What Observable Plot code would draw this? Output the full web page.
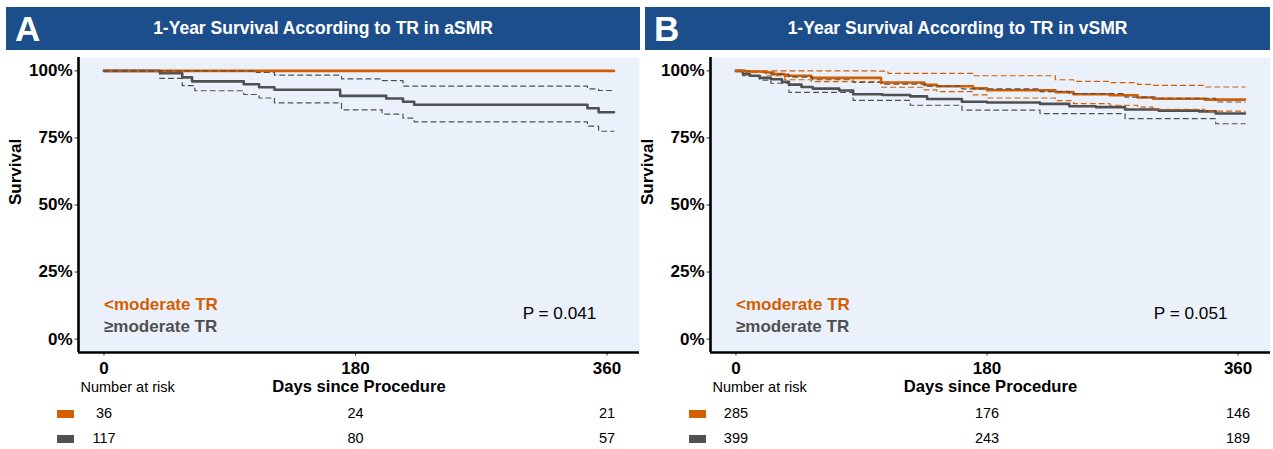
<!DOCTYPE html>
<html>
<head>
<meta charset="utf-8">
<script src="https://cdn.jsdelivr.net/npm/d3@7"></script>
<script src="https://cdn.jsdelivr.net/npm/@observablehq/plot@0.6"></script>
<style>
  html, body { margin: 0; padding: 0; background: #ffffff; }
  body { width: 1273px; height: 449px; position: relative; overflow: hidden; font-family: "Liberation Sans", Arial, sans-serif; }
  .hdr { position: absolute; top: 7px; height: 43px; background: #1d4e8c; color: #fff; }
  .hdr .letter { position: absolute; left: 9px; top: 0; height: 43px; line-height: 43px; font-size: 35px; font-weight: bold; }
  .hdr .title { position: absolute; left: 0; right: 0; top: 0; height: 43px; line-height: 43px; text-align: center; font-size: 17.5px; font-weight: bold; }
  .abs { position: absolute; }
  .sw { position: absolute; width: 17px; height: 8px; }
</style>
</head>
<body>
<div id="root"></div>
<script>
// ---------------- data ----------------
const groups = ["<moderate TR", "≥moderate TR"];
const riskDays = [0, 180, 360];
const xTicks = [0, 180, 360];
const yTicks = [0, 25, 50, 75, 100];

// Panel A (aSMR)
const aLtTime = [0, 365];
const aLtSurv = [100, 100];
const aGeTime = [0, 40, 56, 63, 100, 111, 122, 169, 202, 214, 222, 346, 354, 365];
const aGeSurv = [100, 99.15, 97.6, 96.1, 95.0, 93.9, 93.0, 90.7, 89.7, 88.5, 87.4, 86.1, 84.6, 84.6];
const aGeUpTime = [0, 109, 122, 170, 199, 214, 346, 354, 365];
const aGeUp = [100, 99.4, 98.4, 97.0, 96.4, 94.3, 93.3, 92.7, 92.7];
const aGeLoTime = [0, 40, 56, 65, 100, 111, 122, 170, 199, 214, 222, 346, 354, 365];
const aGeLo = [100, 97.2, 94.5, 92.6, 91.2, 89.9, 88.1, 85.5, 83.9, 82.4, 81.0, 79.4, 77.5, 77.5];
const aRiskLt = [36, 24, 21];
const aRiskGe = [117, 80, 57];
const aTitle = "1-Year Survival According to TR in aSMR";
const aP = "P = 0.041";

// Panel B (vSMR)
const bLtTime = [0, 7, 21, 27, 35, 54, 104, 135, 144, 170, 180, 229, 242, 268, 288, 299, 336, 365];
const bLtSurv = [100, 99.8, 99.4, 98.8, 98.2, 97.4, 95.7, 94.8, 94.3, 93.5, 92.8, 92.1, 91.3, 90.9, 90.1, 89.6, 89.3, 89.3];
const bLtUpTime = [0, 103, 109, 170, 229, 242, 268, 288, 299, 335, 365];
const bLtUp = [100, 99.9, 99.1, 98.2, 96.7, 96.1, 95.6, 95.0, 94.6, 94.0, 94.0];
const bLtLoTime = [0, 7, 21, 35, 54, 104, 135, 144, 170, 180, 229, 242, 268, 288, 299, 336, 365];
const bLtLo = [100, 99.4, 98.2, 96.7, 96.0, 93.9, 92.9, 92.3, 91.1, 89.9, 88.9, 87.8, 87.2, 86.5, 85.7, 85.0, 85.0];
const bGeTime = [0, 5, 10, 17, 25, 33, 38, 47, 55, 74, 84, 105, 125, 137, 162, 180, 218, 239, 258, 279, 303, 332, 344, 365];
const bGeSurv = [100, 98.8, 98.2, 97.4, 96.9, 95.9, 94.9, 94.0, 93.4, 92.7, 91.3, 91.0, 90.5, 89.5, 88.5, 88.2, 87.7, 86.8, 86.5, 85.6, 85.2, 84.9, 84.1, 84.1];
const bGeUpTime = [0, 10, 25, 38, 55, 84, 105, 137, 162, 218, 239, 279, 303, 344, 365];
const bGeUp = [100, 99.4, 98.8, 97.7, 96.7, 95.7, 95.1, 94.3, 93.3, 92.3, 91.5, 90.2, 89.8, 88.4, 88.4];
const bGeLoTime = [0, 5, 17, 25, 38, 84, 125, 162, 218, 279, 344, 365];
const bGeLo = [100, 98.2, 96.6, 95.4, 92.0, 89.0, 87.2, 85.4, 84.1, 82.2, 80.3, 80.3];
const bRiskLt = [285, 176, 146];
const bRiskGe = [399, 243, 189];
const bTitle = "1-Year Survival According to TR in vSMR";
const bP = "P = 0.051";

// ---------------- style ----------------
const ORANGE = "#d55e00";
const GRAY = "#505050";
const BG = "#eaf1fb";
const FONT = "'Liberation Sans', Arial, sans-serif";
const xDomain = [-18.25, 383.25];
const yDomain = [-5, 105];

function pts(time, surv) { return time.map((t, i) => ({t, s: surv[i]})); }

function makePanel(cfg) {
  const root = document.getElementById("root");
  // header
  const hdr = document.createElement("div");
  hdr.className = "hdr";
  hdr.style.left = cfg.hdrLeft + "px";
  hdr.style.width = cfg.hdrWidth + "px";
  hdr.innerHTML = `<div class="title"></div><div class="letter"></div>`;
  hdr.querySelector(".title").textContent = cfg.title;
  hdr.querySelector(".letter").textContent = cfg.letter;
  root.appendChild(hdr);

  const W = cfg.width, ML = cfg.ml, MR = cfg.mr;
  const lineOpts = {x: "t", y: "s", curve: "step-after"};
  const plot = Plot.plot({
    width: W, height: 338,
    marginLeft: ML, marginRight: MR, marginTop: 0, marginBottom: 43,
    style: {fontFamily: FONT, background: "transparent", overflow: "visible", color: "#000"},
    x: {domain: xDomain},
    y: {domain: yDomain},
    marks: [
      Plot.frame({fill: BG, stroke: "none"}),
      Plot.axisY({ticks: yTicks, tickFormat: d => d + "%", tickSize: 3.5, tickPadding: 2.5, fontSize: 17, fontWeight: "bold", stroke: "#333", label: null}),
      Plot.axisX({ticks: xTicks, tickSize: 3.5, tickPadding: 5.5, fontSize: 17, fontWeight: "bold", stroke: "#333", label: null}),
      Plot.text(["Survival"], {frameAnchor: "left", dx: -63, rotate: -90, fontSize: 17, fontWeight: "bold", fill: "#000"}),
      Plot.text(["Days since Procedure"], {frameAnchor: "bottom", dy: 39, fontSize: 16.6, fontWeight: "bold", fill: "#000"}),
      Plot.text(["Number at risk"], {frameAnchor: "bottom-left", dx: 2, dy: 39, textAnchor: "start", fontSize: 14.5, fill: "#000"}),
      // curves
      Plot.line(pts(cfg.geTime, cfg.geSurv), {...lineOpts, stroke: GRAY, strokeWidth: 2.6}),
      Plot.line(pts(cfg.ltTime, cfg.ltSurv), {...lineOpts, stroke: ORANGE, strokeWidth: 2.6}),
      cfg.geUpTime ? Plot.line(pts(cfg.geUpTime, cfg.geUp), {...lineOpts, stroke: GRAY, strokeWidth: 1.2, strokeDasharray: "5,4"}) : null,
      cfg.geLoTime ? Plot.line(pts(cfg.geLoTime, cfg.geLo), {...lineOpts, stroke: GRAY, strokeWidth: 1.2, strokeDasharray: "5,4"}) : null,
      cfg.ltUpTime ? Plot.line(pts(cfg.ltUpTime, cfg.ltUp), {...lineOpts, stroke: ORANGE, strokeWidth: 1.2, strokeDasharray: "5,4"}) : null,
      cfg.ltLoTime ? Plot.line(pts(cfg.ltLoTime, cfg.ltLo), {...lineOpts, stroke: ORANGE, strokeWidth: 1.2, strokeDasharray: "5,4"}) : null,
      // axis lines
      Plot.ruleX([xDomain[0]], {stroke: "#000", strokeWidth: 2.6}),
      Plot.ruleY([yDomain[0]], {stroke: "#000", strokeWidth: 2.6}),
      // legend text
      Plot.text([groups[0]], {x: 0, y: 12.9, textAnchor: "start", fontSize: 17, fontWeight: "bold", fill: ORANGE}),
      Plot.text([groups[1]], {x: 0, y: 4.7, textAnchor: "start", fontSize: 17, fontWeight: "bold", fill: GRAY}),
      Plot.text([cfg.p], {x: 326, y: 9.5, fontSize: 17.2, fill: "#000"})
    ].filter(Boolean)
  });
  const wrap = document.createElement("div");
  wrap.className = "abs";
  wrap.style.left = cfg.left + "px";
  wrap.style.top = "57px";
  wrap.appendChild(plot);
  root.appendChild(wrap);

  // risk table
  const rows = [];
  riskDays.forEach((d, i) => {
    rows.push({t: d, g: groups[0], n: cfg.riskLt[i]});
    rows.push({t: d, g: groups[1], n: cfg.riskGe[i]});
  });
  const risk = Plot.plot({
    width: W, height: 50,
    marginLeft: ML, marginRight: MR, marginTop: 0, marginBottom: 0,
    style: {fontFamily: FONT, background: "transparent", overflow: "visible"},
    x: {domain: xDomain, axis: null},
    y: {type: "point", domain: groups, range: [13, 38], padding: 0, axis: null},
    marks: [
      Plot.text(rows, {x: "t", y: "g", text: d => String(d.n), fontSize: 14.5, fill: "#000"})
    ]
  });
  const rwrap = document.createElement("div");
  rwrap.className = "abs";
  rwrap.style.left = cfg.left + "px";
  rwrap.style.top = "400px";
  rwrap.appendChild(risk);
  root.appendChild(rwrap);

  // swatches
  [ORANGE, GRAY].forEach((c, i) => {
    const s = document.createElement("div");
    s.className = "sw";
    s.style.background = c;
    s.style.left = (cfg.left + ML - 21) + "px";
    s.style.top = (410 + i * 25) + "px";
    root.appendChild(s);
  });
}

makePanel({
  letter: "A", title: aTitle, p: aP,
  hdrLeft: 6, hdrWidth: 634,
  left: 0, width: 640, ml: 78, mr: 1,
  ltTime: aLtTime, ltSurv: aLtSurv,
  geTime: aGeTime, geSurv: aGeSurv,
  geUpTime: aGeUpTime, geUp: aGeUp,
  geLoTime: aGeLoTime, geLo: aGeLo,
  riskLt: aRiskLt, riskGe: aRiskGe
});
makePanel({
  letter: "B", title: bTitle, p: bP,
  hdrLeft: 645, hdrWidth: 625,
  left: 640, width: 633, ml: 70, mr: 3,
  ltTime: bLtTime, ltSurv: bLtSurv,
  ltUpTime: bLtUpTime, ltUp: bLtUp,
  ltLoTime: bLtLoTime, ltLo: bLtLo,
  geTime: bGeTime, geSurv: bGeSurv,
  geUpTime: bGeUpTime, geUp: bGeUp,
  geLoTime: bGeLoTime, geLo: bGeLo,
  riskLt: bRiskLt, riskGe: bRiskGe
});
</script>
</body>
</html>
